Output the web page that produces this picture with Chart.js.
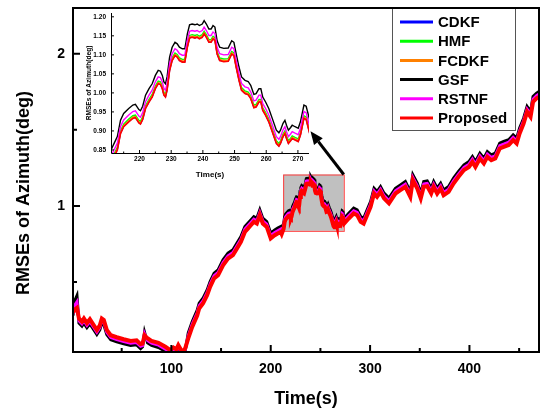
<!DOCTYPE html>
<html>
<head>
<meta charset="utf-8">
<title>RMSEs of Azimuth</title>
<script src="https://cdn.jsdelivr.net/npm/chart.js@4.4.1/dist/chart.umd.min.js"></script>
<style>
  body { margin: 0; background: #fff; }
  #wrap { position: relative; width: 544px; height: 409px; }
  #main { position: absolute; left: 0; top: 0; }
  #inset { position: absolute; left: 75px; top: 5px; }
</style>
</head>
<body>
<div id="wrap">
  <canvas id="main" width="544" height="409"></canvas>
  <canvas id="inset" width="240" height="180"></canvas>
</div>
<script>
'use strict';

// time stamps (s), denser around the zoomed window 211-273 s
let times = [1, 3, 5, 7, 10, 12, 15, 18, 22, 25, 28, 30, 32, 35, 39, 45, 52, 59, 65, 69, 71, 73, 76, 80, 87, 94, 99, 102, 105, 107, 110, 112, 114, 117, 121, 126, 128, 132, 136, 139, 143, 147, 152, 157, 162, 165, 170, 174, 177, 180, 183, 186, 189, 192, 196, 200, 204, 207, 210,
  211, 213, 214, 215, 216.6, 217.9, 218.7, 219.8, 220.3, 221, 221.9, 223, 224, 225, 225.9, 226.6, 227.2, 227.7, 228.2, 228.7, 229.5, 230.3, 231.2, 231.9, 232.6, 233.5, 234.3, 235.1, 235.8, 236.6, 237.5, 238.2, 238.9, 239.8, 240.4, 241.1, 241.9, 242.6, 243.2, 243.8, 244.5, 245.3, 246.6, 248, 249.1, 249.8, 250.5, 251.4, 252.2, 253.3, 254.3, 255.1, 256.1, 256.8, 257.7, 258.3, 258.9, 259.8, 260.8, 261.9, 263.2, 264, 264.5, 265.3, 265.9, 266.4, 267, 267.7, 268.2, 269.1, 270.1, 270.8, 271.9, 272.6,
  274, 278.5, 283.5, 287, 290.5, 293.5, 297, 300.5, 304, 307, 310.5, 314, 319, 325.5, 330.5, 335.5, 340.5, 343, 347.5, 351, 354, 357.5, 361.5, 364, 367.5, 371, 374, 379, 384, 389, 394.5, 399.5, 403, 406, 410.5, 414.5, 418, 422, 426, 430.5, 434.5, 439.5, 444, 447.5, 450.5, 454.5, 458, 461.5, 464, 467.5, 470];

let cdkf = [0.292, 0.312, 0.322, 0.252, 0.232, 0.252, 0.222, 0.247, 0.207, 0.177, 0.207, 0.252, 0.242, 0.177, 0.142, 0.129, 0.116, 0.105, 0.109, 0.084, 0.087, 0.142, 0.122, 0.105, 0.092, 0.066, 0.044, 0.062, 0.049, 0.077, 0.044, 0.037, 0.057,
  0.131, 0.206, 0.281, 0.327, 0.361, 0.414, 0.469, 0.524, 0.546, 0.611, 0.655, 0.677, 0.710, 0.764, 0.830, 0.852, 0.874, 0.896, 0.885, 0.940, 0.885, 0.863, 0.787, 0.808, 0.820, 0.830,
  0.816, 0.851, 0.894, 0.912, 0.925, 0.934, 0.936, 0.922, 0.919, 0.931, 0.960, 0.977, 0.990, 1.012, 1.025, 1.023, 1.012, 0.995, 0.990, 1.008, 1.060, 1.086, 1.099, 1.095, 1.086, 1.082, 1.082, 1.121, 1.145, 1.147, 1.145, 1.147, 1.143, 1.147, 1.156, 1.147, 1.134, 1.134, 1.143, 1.139, 1.103, 1.086, 1.083, 1.084, 1.103, 1.099, 1.069, 1.034, 1.008, 0.999, 0.996, 0.986, 0.962, 0.964, 0.977, 0.977, 0.955, 0.942, 0.925, 0.899, 0.868, 0.861, 0.868, 0.886, 0.894, 0.881, 0.868, 0.875, 0.881, 0.877, 0.873, 0.890, 0.934, 0.931,
  0.885, 0.918, 0.951, 0.940, 0.896, 0.885, 0.940, 0.994, 1.082, 1.060, 1.093, 1.050, 1.017, 1.082, 1.104, 1.126, 1.060, 1.170, 1.115, 1.050, 1.126, 1.130, 1.082, 1.126, 1.082, 1.115, 1.071, 1.093, 1.148, 1.192, 1.236, 1.257, 1.290, 1.257, 1.312, 1.280, 1.323, 1.301, 1.312, 1.378, 1.389, 1.401, 1.433, 1.411, 1.477, 1.542, 1.619, 1.586, 1.684, 1.707, 1.717];

let hmf = [0.295, 0.315, 0.325, 0.255, 0.235, 0.255, 0.225, 0.250, 0.210, 0.180, 0.210, 0.255, 0.245, 0.180, 0.145, 0.132, 0.119, 0.108, 0.112, 0.087, 0.090, 0.145, 0.125, 0.108, 0.095, 0.069, 0.047, 0.065, 0.052, 0.080, 0.047, 0.040, 0.060,
  0.137, 0.212, 0.287, 0.333, 0.367, 0.420, 0.475, 0.530, 0.552, 0.617, 0.661, 0.683, 0.716, 0.770, 0.836, 0.858, 0.880, 0.902, 0.891, 0.946, 0.891, 0.869, 0.793, 0.814, 0.826, 0.836,
  0.822, 0.857, 0.900, 0.918, 0.931, 0.940, 0.942, 0.928, 0.925, 0.937, 0.966, 0.983, 0.996, 1.018, 1.031, 1.029, 1.018, 1.001, 0.996, 1.014, 1.066, 1.092, 1.105, 1.101, 1.092, 1.088, 1.088, 1.127, 1.151, 1.153, 1.151, 1.153, 1.149, 1.153, 1.162, 1.153, 1.140, 1.140, 1.149, 1.145, 1.109, 1.092, 1.089, 1.090, 1.109, 1.105, 1.075, 1.040, 1.014, 1.005, 1.002, 0.992, 0.968, 0.970, 0.983, 0.983, 0.961, 0.948, 0.931, 0.905, 0.874, 0.867, 0.874, 0.892, 0.900, 0.887, 0.874, 0.881, 0.887, 0.883, 0.879, 0.896, 0.940, 0.937,
  0.891, 0.924, 0.957, 0.946, 0.902, 0.891, 0.946, 1.000, 1.088, 1.066, 1.099, 1.056, 1.023, 1.088, 1.110, 1.132, 1.066, 1.176, 1.121, 1.056, 1.132, 1.136, 1.088, 1.132, 1.088, 1.121, 1.077, 1.099, 1.154, 1.198, 1.242, 1.263, 1.296, 1.263, 1.318, 1.286, 1.329, 1.307, 1.318, 1.384, 1.395, 1.407, 1.439, 1.417, 1.483, 1.548, 1.625, 1.592, 1.690, 1.713, 1.723];

let fcdkf = [0.297, 0.317, 0.327, 0.257, 0.237, 0.257, 0.227, 0.252, 0.212, 0.182, 0.212, 0.257, 0.247, 0.182, 0.147, 0.134, 0.121, 0.110, 0.114, 0.089, 0.092, 0.147, 0.127, 0.110, 0.097, 0.071, 0.049, 0.067, 0.054, 0.082, 0.049, 0.042, 0.062,
  0.133, 0.208, 0.283, 0.329, 0.363, 0.416, 0.471, 0.526, 0.548, 0.613, 0.657, 0.679, 0.712, 0.766, 0.832, 0.854, 0.876, 0.898, 0.887, 0.942, 0.887, 0.865, 0.789, 0.810, 0.822, 0.832,
  0.818, 0.853, 0.896, 0.914, 0.927, 0.936, 0.938, 0.924, 0.921, 0.933, 0.962, 0.979, 0.992, 1.014, 1.027, 1.025, 1.014, 0.997, 0.992, 1.010, 1.062, 1.088, 1.101, 1.097, 1.088, 1.084, 1.084, 1.123, 1.147, 1.149, 1.147, 1.149, 1.145, 1.149, 1.158, 1.149, 1.136, 1.136, 1.145, 1.141, 1.105, 1.088, 1.085, 1.086, 1.105, 1.101, 1.071, 1.036, 1.010, 1.001, 0.998, 0.988, 0.964, 0.966, 0.979, 0.979, 0.957, 0.944, 0.927, 0.901, 0.870, 0.863, 0.870, 0.888, 0.896, 0.883, 0.870, 0.877, 0.883, 0.879, 0.875, 0.892, 0.936, 0.933,
  0.887, 0.920, 0.953, 0.942, 0.898, 0.887, 0.942, 0.996, 1.084, 1.062, 1.095, 1.052, 1.019, 1.084, 1.106, 1.128, 1.062, 1.172, 1.117, 1.052, 1.128, 1.132, 1.084, 1.128, 1.084, 1.117, 1.073, 1.095, 1.150, 1.194, 1.238, 1.259, 1.292, 1.259, 1.314, 1.282, 1.325, 1.303, 1.314, 1.380, 1.391, 1.403, 1.435, 1.413, 1.479, 1.544, 1.621, 1.588, 1.686, 1.709, 1.719];

let gsf = [0.28, 0.38, 0.41, 0.23, 0.21, 0.23, 0.20, 0.225, 0.185, 0.155, 0.185, 0.23, 0.22, 0.155, 0.12, 0.107, 0.094, 0.083, 0.087, 0.062, 0.075, 0.17, 0.10, 0.083, 0.07, 0.044, 0.03, 0.05, 0.035, 0.07, 0.03, 0.03, 0.05,
  0.165, 0.24, 0.315, 0.361, 0.395, 0.448, 0.503, 0.558, 0.58, 0.645, 0.689, 0.711, 0.744, 0.798, 0.864, 0.886, 0.908, 0.93, 0.919, 0.974, 0.919, 0.897, 0.821, 0.842, 0.854, 0.864,
  0.850, 0.885, 0.928, 0.946, 0.959, 0.968, 0.970, 0.956, 0.953, 0.965, 0.994, 1.011, 1.024, 1.046, 1.059, 1.057, 1.046, 1.029, 1.024, 1.042, 1.094, 1.120, 1.133, 1.129, 1.120, 1.116, 1.116, 1.155, 1.179, 1.181, 1.179, 1.181, 1.177, 1.181, 1.190, 1.181, 1.168, 1.168, 1.177, 1.173, 1.137, 1.120, 1.117, 1.118, 1.137, 1.133, 1.103, 1.068, 1.042, 1.033, 1.030, 1.020, 0.996, 0.998, 1.011, 1.011, 0.989, 0.976, 0.959, 0.933, 0.902, 0.895, 0.902, 0.920, 0.928, 0.915, 0.902, 0.909, 0.915, 0.911, 0.907, 0.924, 0.968, 0.965,
  0.919, 0.952, 0.985, 0.974, 0.930, 0.919, 0.974, 1.028, 1.116, 1.094, 1.127, 1.084, 1.051, 1.116, 1.138, 1.160, 1.094, 1.204, 1.149, 1.084, 1.160, 1.164, 1.116, 1.160, 1.116, 1.149, 1.105, 1.127, 1.182, 1.226, 1.270, 1.291, 1.324, 1.291, 1.346, 1.314, 1.357, 1.335, 1.346, 1.412, 1.423, 1.435, 1.467, 1.445, 1.511, 1.576, 1.653, 1.620, 1.718, 1.741, 1.751];

let rstnf = [0.29, 0.35, 0.37, 0.245, 0.225, 0.245, 0.215, 0.24, 0.20, 0.17, 0.20, 0.245, 0.235, 0.17, 0.135, 0.122, 0.109, 0.098, 0.102, 0.077, 0.082, 0.16, 0.115, 0.098, 0.085, 0.059, 0.04, 0.06, 0.045, 0.075, 0.04, 0.038, 0.055,
  0.148, 0.223, 0.298, 0.344, 0.378, 0.431, 0.486, 0.541, 0.563, 0.628, 0.672, 0.694, 0.727, 0.781, 0.847, 0.869, 0.891, 0.913, 0.902, 0.957, 0.902, 0.880, 0.804, 0.825, 0.837, 0.847,
  0.833, 0.868, 0.911, 0.929, 0.942, 0.951, 0.953, 0.939, 0.936, 0.948, 0.977, 0.994, 1.007, 1.029, 1.042, 1.040, 1.029, 1.012, 1.007, 1.025, 1.077, 1.103, 1.116, 1.112, 1.103, 1.099, 1.099, 1.138, 1.162, 1.164, 1.162, 1.164, 1.160, 1.164, 1.173, 1.164, 1.151, 1.151, 1.160, 1.156, 1.120, 1.103, 1.100, 1.101, 1.120, 1.116, 1.086, 1.051, 1.025, 1.016, 1.013, 1.003, 0.979, 0.981, 0.994, 0.994, 0.972, 0.959, 0.942, 0.916, 0.885, 0.878, 0.885, 0.903, 0.911, 0.898, 0.885, 0.892, 0.898, 0.894, 0.890, 0.907, 0.951, 0.948,
  0.902, 0.935, 0.968, 0.957, 0.913, 0.902, 0.957, 1.011, 1.099, 1.077, 1.110, 1.067, 1.034, 1.099, 1.121, 1.143, 1.077, 1.187, 1.132, 1.067, 1.143, 1.147, 1.099, 1.143, 1.099, 1.132, 1.088, 1.110, 1.165, 1.209, 1.253, 1.274, 1.307, 1.274, 1.329, 1.297, 1.340, 1.318, 1.329, 1.395, 1.406, 1.418, 1.450, 1.428, 1.494, 1.559, 1.636, 1.603, 1.701, 1.724, 1.734];

let proposed = [0.300, 0.320, 0.330, 0.260, 0.240, 0.260, 0.230, 0.255, 0.215, 0.185, 0.215, 0.260, 0.250, 0.185, 0.150, 0.137, 0.124, 0.113, 0.117, 0.092, 0.095, 0.150, 0.130, 0.113, 0.100, 0.074, 0.052, 0.070, 0.057, 0.085, 0.052, 0.045, 0.065,
  0.130, 0.205, 0.280, 0.326, 0.360, 0.413, 0.468, 0.523, 0.545, 0.610, 0.654, 0.676, 0.709, 0.763, 0.829, 0.851, 0.873, 0.895, 0.884, 0.939, 0.884, 0.862, 0.786, 0.807, 0.819, 0.829,
  0.815, 0.850, 0.893, 0.911, 0.924, 0.933, 0.935, 0.921, 0.918, 0.930, 0.959, 0.976, 0.989, 1.011, 1.024, 1.022, 1.011, 0.994, 0.989, 1.007, 1.059, 1.085, 1.098, 1.094, 1.085, 1.081, 1.081, 1.120, 1.144, 1.146, 1.144, 1.146, 1.142, 1.146, 1.155, 1.146, 1.133, 1.133, 1.142, 1.138, 1.102, 1.085, 1.082, 1.083, 1.102, 1.098, 1.068, 1.033, 1.007, 0.998, 0.995, 0.985, 0.961, 0.963, 0.976, 0.976, 0.954, 0.941, 0.924, 0.898, 0.867, 0.860, 0.867, 0.885, 0.893, 0.880, 0.867, 0.874, 0.880, 0.876, 0.872, 0.889, 0.933, 0.930,
  0.884, 0.917, 0.950, 0.939, 0.895, 0.884, 0.939, 0.993, 1.081, 1.059, 1.092, 1.049, 1.016, 1.081, 1.103, 1.125, 1.059, 1.169, 1.114, 1.049, 1.125, 1.129, 1.081, 1.125, 1.081, 1.114, 1.070, 1.092, 1.147, 1.191, 1.235, 1.256, 1.289, 1.256, 1.311, 1.279, 1.322, 1.300, 1.311, 1.377, 1.388, 1.400, 1.432, 1.410, 1.476, 1.541, 1.618, 1.585, 1.683, 1.706, 1.716];

let seriesNames = ['CDKF', 'HMF', 'FCDKF', 'GSF', 'RSTNF', 'Proposed'];
let seriesValues = [cdkf, hmf, fcdkf, gsf, rstnf, proposed];
let seriesColors = ['#0000ff', '#00ff00', '#ff8000', '#000000', '#ff00ff', '#ff0000'];
// lower order is drawn later, so Proposed ends up on top
let drawOrder = [5, 4, 3, 2, 1, 0];

// axis ticks
let xMajorTicks = [100, 200, 300, 400];
let xMinorTicks = [50, 150, 250, 350, 450];
let yMajorTicks = [1, 2];
let yMinorTicks = [0.5, 1.5];
let insetXTicks = [220, 230, 240, 250, 260, 270];
let insetXMinor = [215, 225, 235, 245, 255, 265];
let insetYTicks = [0.85, 0.90, 0.95, 1.00, 1.05, 1.10, 1.15, 1.20];

// zoom window and the arrow that points at the enlarged view
let zoomTimes = [212.5, 273.5];
let zoomLevels = [0.836, 1.206];
let arrowTip = [240, 1.49];

const FONT = '"Liberation Sans", Arial, Helvetica, sans-serif';

function buildDatasets(widths) {
  return seriesNames.map(function (name, i) {
    return {
      label: name,
      data: times.map((t, k) => ({ x: t, y: seriesValues[i][k] })),
      borderColor: seriesColors[i],
      backgroundColor: seriesColors[i],
      borderWidth: widths[i],
      pointRadius: 0,
      tension: 0,
      fill: false,
      order: drawOrder[i]
    };
  });
}

function drawTicks(ctx, scale, values, len, horizontal, area) {
  ctx.beginPath();
  for (let v of values) {
    let p = scale.getPixelForValue(v);
    if (horizontal) {
      ctx.moveTo(p, area.bottom);
      ctx.lineTo(p, area.bottom - len);
    } else {
      ctx.moveTo(area.left, p);
      ctx.lineTo(area.left + len, p);
    }
  }
  ctx.stroke();
}

let mainDecor = {
  id: 'mainDecor',
  beforeDatasetsDraw(chart) {
    let { ctx, scales: { x, y } } = chart;
    let x0 = x.getPixelForValue(zoomTimes[0]);
    let x1 = x.getPixelForValue(zoomTimes[1]);
    let y0 = y.getPixelForValue(zoomLevels[0]);
    let y1 = y.getPixelForValue(zoomLevels[1]);
    ctx.save();
    ctx.fillStyle = '#c0c0c0';
    ctx.fillRect(x0, y1, x1 - x0, y0 - y1);
    ctx.strokeStyle = '#ff3c3c';
    ctx.lineWidth = 1;
    ctx.strokeRect(x0 + 0.5, y1 + 0.5, x1 - x0, y0 - y1);
    ctx.restore();
  },
  afterDraw(chart) {
    let { ctx, chartArea: area, scales: { x, y } } = chart;
    ctx.save();

    // arrow from the zoom window towards the inset
    let ax = x.getPixelForValue(zoomTimes[1]);
    let ay = y.getPixelForValue(zoomLevels[1]);
    let tx = x.getPixelForValue(arrowTip[0]);
    let ty = y.getPixelForValue(arrowTip[1]);
    let ang = Math.atan2(ty - ay, tx - ax);
    let headLen = 13;
    let bx = tx - headLen * Math.cos(ang);
    let by = ty - headLen * Math.sin(ang);
    ctx.strokeStyle = '#000';
    ctx.fillStyle = '#000';
    ctx.lineWidth = 3;
    ctx.beginPath();
    ctx.moveTo(ax, ay);
    ctx.lineTo(bx, by);
    ctx.stroke();
    ctx.beginPath();
    ctx.moveTo(tx, ty);
    ctx.lineTo(bx + 5.5 * Math.sin(ang), by - 5.5 * Math.cos(ang));
    ctx.lineTo(bx - 5.5 * Math.sin(ang), by + 5.5 * Math.cos(ang));
    ctx.closePath();
    ctx.fill();

    // legend box
    let lgLeft = 392, lgTop = area.top, lgW = 123, lgH = 122;
    ctx.fillStyle = '#fff';
    ctx.fillRect(lgLeft, lgTop, lgW, lgH);
    ctx.strokeStyle = '#555';
    ctx.lineWidth = 1;
    ctx.strokeRect(lgLeft + 0.5, lgTop + 0.5, lgW, lgH);
    ctx.font = 'bold 15px ' + FONT;
    ctx.textBaseline = 'middle';
    ctx.textAlign = 'left';
    seriesNames.forEach(function (name, i) {
      let rowY = lgTop + 14 + i * 19.2;
      ctx.strokeStyle = seriesColors[i];
      ctx.lineWidth = 3;
      ctx.beginPath();
      ctx.moveTo(lgLeft + 8, rowY);
      ctx.lineTo(lgLeft + 41, rowY);
      ctx.stroke();
      ctx.fillStyle = '#000';
      ctx.fillText(name, lgLeft + 46, rowY + 1);
    });

    // frame and inward ticks
    ctx.strokeStyle = '#000';
    ctx.lineWidth = 2;
    ctx.strokeRect(area.left, area.top, area.right - area.left, area.bottom - area.top);
    drawTicks(ctx, x, xMajorTicks, 7, true, area);
    drawTicks(ctx, x, xMinorTicks, 4, true, area);
    drawTicks(ctx, y, yMajorTicks, 7, false, area);
    drawTicks(ctx, y, yMinorTicks, 4, false, area);

    // axis titles
    ctx.fillStyle = '#000';
    ctx.font = 'bold 18px ' + FONT;
    ctx.textAlign = 'center';
    ctx.textBaseline = 'alphabetic';
    ctx.fillText('Time(s)', (area.left + area.right) / 2, 404);
    ctx.translate(29, 193);
    ctx.rotate(-Math.PI / 2);
    ctx.fillText('RMSEs of Azimuth(deg)', 0, 0);
    ctx.restore();
  }
};

let insetDecor = {
  id: 'insetDecor',
  afterDraw(chart) {
    let { ctx, chartArea: area, scales: { x, y } } = chart;
    ctx.save();
    ctx.strokeStyle = '#000';
    ctx.lineWidth = 1;
    ctx.beginPath();
    ctx.moveTo(area.left + 0.5, area.top);
    ctx.lineTo(area.left + 0.5, area.bottom + 0.5);
    ctx.lineTo(area.right, area.bottom + 0.5);
    ctx.stroke();
    drawTicks(ctx, x, insetXTicks, 3, true, area);
    drawTicks(ctx, x, insetXMinor, 1.5, true, area);
    drawTicks(ctx, y, insetYTicks, 3, false, area);

    ctx.fillStyle = '#000';
    ctx.textAlign = 'center';
    ctx.textBaseline = 'alphabetic';
    ctx.font = 'bold 8px ' + FONT;
    ctx.fillText('Time(s)', (area.left + area.right) / 2, 172);
    ctx.font = 'bold 6.6px ' + FONT;
    ctx.translate(16, (area.top + area.bottom) / 2);
    ctx.rotate(-Math.PI / 2);
    ctx.fillText('RMSEs of Azimuth(deg)', 0, 0);
    ctx.restore();
  }
};

function axisOptions(min, max, tickList, fontSize, pad, fmt, size) {
  return {
    type: 'linear',
    min: min,
    max: max,
    afterBuildTicks: (axis) => { axis.ticks = tickList.map(v => ({ value: v })); },
    afterFit: (axis) => {
      // fixed box size, no extra room for overhanging labels
      if (axis.isHorizontal()) axis.height = size; else axis.width = size;
      axis.paddingTop = 0;
      axis.paddingBottom = 0;
      axis.paddingLeft = 0;
      axis.paddingRight = 0;
    },
    grid: { display: false, drawTicks: false },
    border: { display: false },
    ticks: {
      color: '#000',
      padding: pad,
      autoSkip: false,
      maxRotation: 0,
      font: { family: FONT, size: fontSize, weight: 'bold' },
      callback: fmt
    }
  };
}

new Chart(document.getElementById('main'), {
  type: 'line',
  data: { datasets: buildDatasets([2.5, 2.5, 2.5, 3, 3, 4]) },
  options: {
    responsive: false,
    animation: false,
    devicePixelRatio: 1,
    events: [],
    layout: { padding: { top: 8, right: 5, left: 0, bottom: 0 } },
    plugins: { legend: { display: false }, tooltip: { enabled: false } },
    scales: {
      x: axisOptions(1, 470, xMajorTicks, 14, 9, v => String(v), 57),
      y: axisOptions(0.04, 2.3, yMajorTicks, 14, 8, v => String(v), 73)
    }
  },
  plugins: [mainDecor]
});

new Chart(document.getElementById('inset'), {
  type: 'line',
  data: { datasets: buildDatasets([1.4, 1.4, 1.4, 1.4, 1.4, 1.6]) },
  options: {
    responsive: false,
    animation: false,
    devicePixelRatio: 1,
    events: [],
    layout: { padding: { top: 8, right: 6, left: 0, bottom: 0 } },
    plugins: { legend: { display: false }, tooltip: { enabled: false } },
    scales: {
      x: axisOptions(211, 273.5, insetXTicks, 6.5, 2, v => String(v), 32),
      y: axisOptions(0.842, 1.21, insetYTicks, 6.5, 5, v => v.toFixed(2), 36)
    }
  },
  plugins: [insetDecor]
});
</script>
</body>
</html>
